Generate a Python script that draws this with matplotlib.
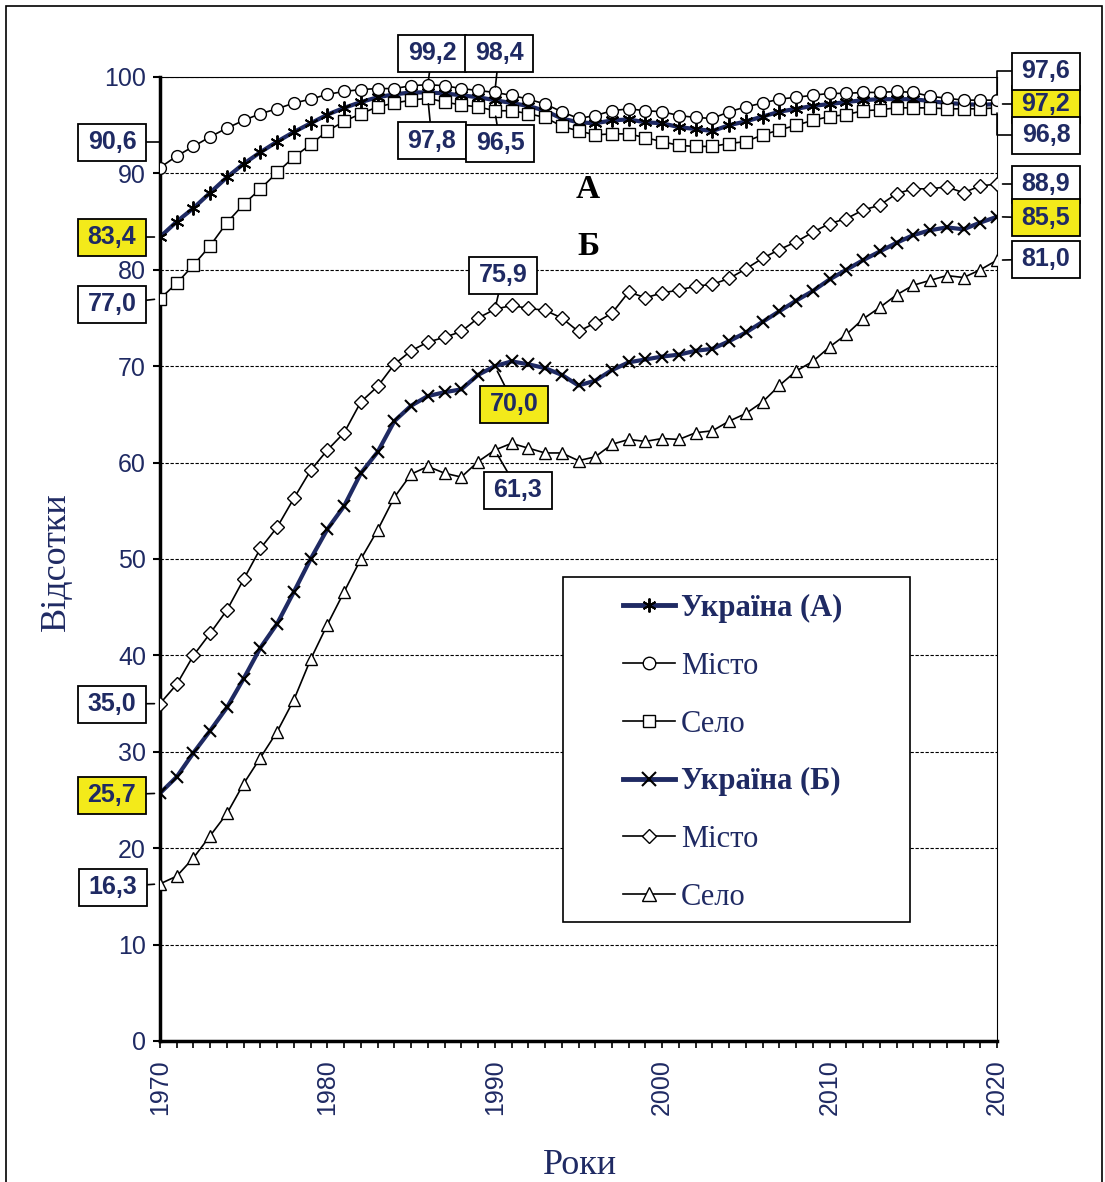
import matplotlib.pyplot as plt
from matplotlib.lines import Line2D
from matplotlib.patches import Rectangle

plt.rcParams['font.family'] = ['Liberation Sans', 'DejaVu Sans']

NAVY = '#1f2a63'
YELLOW = '#f3ea1a'

years = list(range(1970, 2021))

# А: частка (Україна / місто / село)
ukr_a = [83.4, 85.0, 86.4, 88.0, 89.6, 91.0, 92.2, 93.3, 94.3, 95.2,
         96.1, 96.8, 97.4, 97.9, 98.2, 98.4, 98.4, 98.3, 98.1, 97.9,
         97.6, 97.3, 97.0, 96.5, 95.7, 95.3, 95.2, 95.5, 95.6, 95.3,
         95.2, 94.8, 94.6, 94.4, 95.0, 95.4, 95.9, 96.4, 96.7, 97.0,
         97.2, 97.4, 97.6, 97.7, 97.7, 97.7, 97.5, 97.3, 97.2, 97.1,
         97.2]
city_a = [90.6, 91.8, 92.8, 93.8, 94.7, 95.5, 96.2, 96.7, 97.3, 97.7,
          98.2, 98.5, 98.7, 98.8, 98.8, 99.1, 99.2, 99.1, 98.8, 98.6,
          98.4, 98.1, 97.7, 97.2, 96.4, 95.7, 96.0, 96.5, 96.7, 96.5,
          96.4, 96.0, 95.8, 95.7, 96.4, 96.9, 97.3, 97.7, 97.9, 98.1,
          98.3, 98.3, 98.4, 98.4, 98.5, 98.4, 98.0, 97.8, 97.6, 97.6,
          97.6]
village_a = [77.0, 78.6, 80.5, 82.5, 84.9, 86.8, 88.4, 90.1, 91.7, 93.0,
             94.4, 95.4, 96.2, 96.9, 97.3, 97.6, 97.8, 97.4, 97.1, 96.9,
             96.5, 96.5, 96.2, 95.8, 94.9, 94.4, 94.0, 94.1, 94.1, 93.7,
             93.3, 92.9, 92.8, 92.8, 93.1, 93.3, 94.0, 94.5, 95.0, 95.5,
             95.9, 96.1, 96.5, 96.6, 96.8, 96.8, 96.8, 96.7, 96.7, 96.7,
             96.8]

# Б
ukr_b = [25.7, 27.4, 29.9, 32.2, 34.6, 37.6, 40.8, 43.3, 46.6, 50.0,
         53.1, 55.5, 58.9, 61.1, 64.3, 65.9, 66.9, 67.3, 67.6, 69.1,
         70.0, 70.5, 70.2, 69.8, 69.1, 68.0, 68.5, 69.6, 70.4, 70.7,
         71.0, 71.2, 71.6, 71.8, 72.6, 73.5, 74.6, 75.7, 76.8, 77.8,
         79.0, 80.0, 81.0, 81.9, 82.8, 83.6, 84.1, 84.4, 84.2, 84.9,
         85.5]
city_b = [35.0, 37.0, 40.0, 42.3, 44.7, 47.9, 51.1, 53.3, 56.3, 59.2,
          61.3, 63.1, 66.3, 67.9, 70.2, 71.6, 72.5, 73.0, 73.6, 75.0,
          75.9, 76.3, 76.0, 75.8, 75.0, 73.6, 74.5, 75.5, 77.7, 77.1,
          77.6, 77.9, 78.3, 78.5, 79.1, 80.1, 81.2, 82.1, 82.9, 83.9,
          84.8, 85.3, 86.2, 86.7, 87.9, 88.4, 88.4, 88.6, 88.0, 88.7,
          88.9]
village_b = [16.3, 17.1, 19.0, 21.3, 23.6, 26.7, 29.4, 32.1, 35.4, 39.6,
             43.2, 46.6, 50.0, 53.0, 56.4, 58.8, 59.6, 58.9, 58.5, 60.1,
             61.3, 62.0, 61.5, 61.0, 61.0, 60.2, 60.6, 61.9, 62.4, 62.2,
             62.5, 62.4, 63.1, 63.3, 64.3, 65.1, 66.3, 68.0, 69.5, 70.5,
             72.0, 73.3, 74.9, 76.1, 77.4, 78.4, 78.9, 79.4, 79.2, 80.0,
             81.0]

legend_labels = ['Україна (А)', 'Місто', 'Село', 'Україна (Б)', 'Місто', 'Село']

W, H = 1105, 1182
fig = plt.figure(figsize=(W / 100, H / 100), dpi=100)
ax = fig.add_axes([160 / W, 141 / H, 837 / W, 964 / H])


def fpos(x, y):
    # pixel from top-left -> figure fraction
    return x / W, 1 - y / H


ax.plot(years, ukr_a, color=NAVY, lw=3, marker=(6, 2, 0), ms=10,
        mec='black', mew=1.4, zorder=2)
ax.plot(years, ukr_b, color=NAVY, lw=3, marker='x', ms=9,
        mec='black', mew=1.5, zorder=2)
ax.plot(years, village_a, color='black', lw=1.2, marker='s', ms=8,
        mfc='white', mec='black', mew=1, zorder=3)
ax.plot(years, city_a, color='black', lw=1.2, marker='o', ms=8.5,
        mfc='white', mec='black', mew=1, zorder=4)
ax.plot(years, village_b, color='black', lw=1.2, marker='^', ms=9,
        mfc='white', mec='black', mew=1, zorder=3)
ax.plot(years, city_b, color='black', lw=1.2, marker='D', ms=7.5,
        mfc='white', mec='black', mew=1, zorder=3)

ax.set_xlim(1970, 2020)
ax.set_ylim(0, 100)
ax.set_xticks(range(1970, 2021, 10))
ax.set_xticks(years, minor=True)
ax.set_yticks(range(0, 101, 10))
ax.tick_params(axis='x', which='both', direction='out', length=5, width=1.2,
               labelsize=18, labelcolor=NAVY, rotation=90, pad=8)
ax.tick_params(axis='y', direction='out', length=5, width=1.5,
               labelsize=18, labelcolor=NAVY, pad=5)
ax.yaxis.grid(True, ls=(0, (3, 1.5)), color='black', lw=0.8)
ax.set_axisbelow(True)
for s in ['left', 'bottom']:
    ax.spines[s].set_linewidth(2.5)
for s in ['top', 'right']:
    ax.spines[s].set_linewidth(0.8)

fig.text(*fpos(56, 562), 'Відсотки', rotation=90, ha='center', va='center',
         family='Liberation Serif', size=26, color=NAVY)
fig.text(*fpos(580, 1174), 'Роки', ha='center', va='baseline',
         family='Liberation Serif', size=26, color=NAVY)

fig.text(*fpos(588, 190), 'А', ha='center', va='center', family='Liberation Serif',
         weight='bold', size=24, color='black')
fig.text(*fpos(588, 246), 'Б', ha='center', va='center', family='Liberation Serif',
         weight='bold', size=24, color='black')

# outer frame
fig.add_artist(Rectangle((6 / W, -0.01), 1096 / W, 1 - 6 / H + 0.01,
                         transform=fig.transFigure, fill=False, ec='black', lw=1.2))

# value labels: (series, year, box centre in px, colour, elbow)
labels = [
    (city_a, 1970, (112, 142), 'white', True),
    (ukr_a, 1970, (112, 237), YELLOW, False),
    (village_a, 1970, (112, 304), 'white', False),
    (city_b, 1970, (112, 704), 'white', False),
    (ukr_b, 1970, (112, 795), YELLOW, False),
    (village_b, 1970, (113, 887), 'white', False),
    (city_a, 1986, (432, 53), 'white', False),
    (city_a, 1990, (499, 53), 'white', False),
    (village_a, 1986, (432, 141), 'white', False),
    (village_a, 1990, (500, 143), 'white', False),
    (city_b, 1990, (503, 275), 'white', False),
    (ukr_b, 1990, (514, 404), YELLOW, False),
    (village_b, 1990, (518, 490), 'white', False),
    (ukr_a, 2020, (1046, 104), YELLOW, False),
    (city_a, 2020, (1046, 71), 'white', True),
    (village_a, 2020, (1046, 135), 'white', True),
    (city_b, 2020, (1046, 184), 'white', False),
    (ukr_b, 2020, (1046, 218), YELLOW, False),
    (village_b, 2020, (1046, 259), 'white', False),
]
for i, (ser, yr, (cx, cy), fc, elbow) in enumerate(labels):
    val = ser[years.index(yr)]
    cs = 'angle,angleA=0,angleB=90,rad=0' if elbow else 'arc3'
    ax.annotate('', xy=(yr, val), xycoords='data', xytext=fpos(cx, cy),
                textcoords='figure fraction', annotation_clip=False,
                arrowprops=dict(arrowstyle='-', color='black', lw=1.2,
                                shrinkA=0, shrinkB=4, connectionstyle=cs),
                zorder=5)
    bw, bh = 68, 37
    fig.add_artist(Rectangle(((cx - bw / 2) / W, 1 - (cy + bh / 2) / H), bw / W, bh / H,
                             transform=fig.transFigure, fc=fc, ec='black', lw=1.3,
                             zorder=6 + i * 0.01))
    fig.text(*fpos(cx, cy), f'{val:.1f}'.replace('.', ','), ha='center', va='center',
             size=18, weight='bold', color=NAVY, zorder=7)

# legend
fig.add_artist(Rectangle((563 / W, 1 - 922 / H), 347 / W, 345 / H,
                         transform=fig.transFigure, fc='white', ec='black', lw=1.2, zorder=4))
handles = [
    Line2D([], [], color=NAVY, lw=3.5, marker=(6, 2, 0), ms=10, mec='black', mew=1.4),
    Line2D([], [], color='black', lw=1.2, marker='o', ms=9, mfc='white', mec='black'),
    Line2D([], [], color='black', lw=1.2, marker='s', ms=9, mfc='white', mec='black'),
    Line2D([], [], color=NAVY, lw=3.5, marker='x', ms=10, mec='black', mew=1.5),
    Line2D([], [], color='black', lw=1.2, marker='D', ms=7, mfc='white', mec='black'),
    Line2D([], [], color='black', lw=1.2, marker='^', ms=10, mfc='white', mec='black'),
]
leg = fig.legend(handles, legend_labels, loc='upper left', bbox_to_anchor=fpos(623, 594),
                 frameon=False, borderpad=0, borderaxespad=0, handlelength=1.7,
                 handletextpad=0.2, labelspacing=0.94,
                 prop=dict(family='Liberation Serif', size=22))
leg.set_zorder(5)
for i, t in enumerate(leg.get_texts()):
    t.set_color(NAVY)
    if i in (0, 3):
        t.set_fontweight('bold')

fig.savefig('out.png', dpi=100)
